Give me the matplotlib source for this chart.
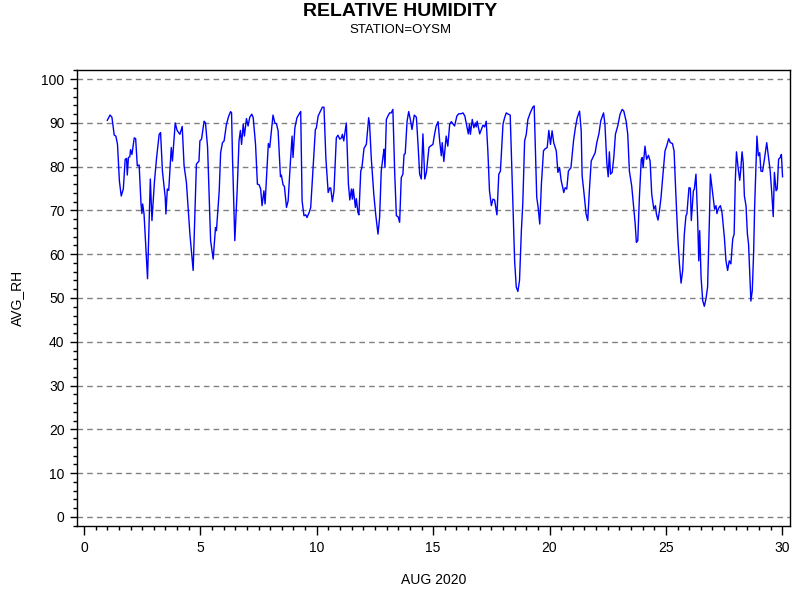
import numpy as np
import matplotlib
matplotlib.use('Agg')
import matplotlib.pyplot as plt
from matplotlib.ticker import MultipleLocator

plt.rcParams['font.family'] = ['Liberation Sans', 'DejaVu Sans']

# day of month (fractional) and average relative humidity
day = [1.00, 1.12, 1.20, 1.30, 1.37, 1.44, 1.52, 1.60, 1.69, 1.77, 1.83, 1.86, 1.91, 1.97,
       2.00, 2.06, 2.16, 2.22, 2.29, 2.37, 2.45, 2.49, 2.52, 2.58, 2.73, 2.85, 2.92,
       3.03, 3.12, 3.23, 3.29, 3.37, 3.49, 3.52, 3.58, 3.64, 3.75, 3.80, 3.92,
       4.00, 4.12, 4.22, 4.30, 4.40, 4.55, 4.69, 4.83, 4.94, 4.98,
       5.05, 5.16, 5.22, 5.31, 5.44, 5.55, 5.65, 5.69, 5.81, 5.87, 5.95,
       6.02, 6.12, 6.22, 6.30, 6.34, 6.38, 6.48, 6.58, 6.66, 6.72, 6.77, 6.84, 6.89, 6.98,
       7.05, 7.12, 7.21, 7.27, 7.37, 7.45, 7.52, 7.59, 7.65, 7.73, 7.78, 7.92, 7.98,
       8.12, 8.20, 8.27, 8.34, 8.44, 8.48, 8.55, 8.61, 8.70, 8.77, 8.87, 8.94, 8.98,
       9.06, 9.15, 9.27, 9.31, 9.37, 9.45, 9.53, 9.58, 9.67, 9.74, 9.84, 9.94, 9.98,
       10.06, 10.16, 10.24, 10.31, 10.39, 10.49, 10.56, 10.60, 10.67, 10.74, 10.84, 10.91, 10.99,
       11.06, 11.10, 11.16, 11.27, 11.36, 11.42, 11.49, 11.53, 11.57, 11.66, 11.70, 11.77, 11.81,
       11.89, 11.94, 12.03, 12.13, 12.23, 12.27, 12.34, 12.45, 12.53, 12.63, 12.70, 12.77, 12.85,
       12.89, 12.93, 12.99, 13.06, 13.13, 13.20, 13.27, 13.35, 13.42, 13.49, 13.56, 13.63, 13.70,
       13.75, 13.80, 13.88, 13.95, 14.02, 14.09, 14.19, 14.28, 14.35, 14.42, 14.49, 14.56, 14.64,
       14.71, 14.82, 14.88, 14.99, 15.06, 15.13, 15.21, 15.28, 15.35, 15.39, 15.46, 15.56, 15.63,
       15.71, 15.78, 15.85, 15.92, 16.02, 16.10, 16.20, 16.28, 16.36, 16.42, 16.51, 16.56, 16.60,
       16.68, 16.75, 16.81, 16.85, 16.89, 17.00, 17.07, 17.14, 17.21, 17.28, 17.35, 17.42, 17.50,
       17.57, 17.64, 17.74, 17.82, 17.89, 18.00, 18.07, 18.14, 18.23, 18.31, 18.40, 18.50, 18.57,
       18.64, 18.71, 18.79, 18.85, 18.93, 19.00, 19.07, 19.17, 19.28, 19.34, 19.40, 19.45, 19.51,
       19.58, 19.65, 19.74, 19.79, 19.90, 19.97, 20.04, 20.11, 20.18, 20.29, 20.36, 20.43, 20.50,
       20.57, 20.61, 20.67, 20.74, 20.81, 20.92, 21.03, 21.11, 21.19, 21.29, 21.36, 21.40, 21.47,
       21.57, 21.64, 21.71, 21.79, 21.86, 21.96, 22.03, 22.12, 22.20, 22.32, 22.38, 22.46, 22.52,
       22.57, 22.62, 22.69, 22.76, 22.83, 22.93, 23.03, 23.12, 23.19, 23.29, 23.36, 23.43, 23.53,
       23.61, 23.68, 23.73, 23.79, 23.86, 23.94, 23.98, 24.02, 24.10, 24.17, 24.25, 24.32, 24.39,
       24.48, 24.55, 24.59, 24.66, 24.72, 24.79, 24.86, 24.96, 25.03, 25.12, 25.19, 25.28, 25.35,
       25.42, 25.51, 25.58, 25.65, 25.72, 25.79, 25.86, 25.90, 25.99, 26.05, 26.09, 26.18, 26.22,
       26.29, 26.36, 26.41, 26.45, 26.51, 26.58, 26.65, 26.72, 26.79, 26.87, 26.91, 26.98, 27.05,
       27.09, 27.15, 27.19, 27.26, 27.34, 27.41, 27.51, 27.58, 27.65, 27.72, 27.79, 27.87, 27.93,
       27.98, 28.03, 28.10, 28.17, 28.21, 28.27, 28.32, 28.37, 28.44, 28.50, 28.55, 28.61, 28.65,
       28.71, 28.77, 28.81, 28.87, 28.91, 28.97, 29.03, 29.08, 29.15, 29.22, 29.33, 29.41, 29.48,
       29.55, 29.61, 29.66, 29.73, 29.78, 29.84, 29.91, 29.96, 30.01]

avg_rh = [90.6, 91.8, 91.3, 87.2, 87.0, 85.1, 76.8, 73.3, 74.9, 81.7, 81.9, 78.1, 82.1, 82.3,
          83.9, 82.8, 86.6, 86.4, 80.2, 80.4, 71.5, 69.3, 71.5, 69.2, 54.4, 77.2, 67.7,
          76.8, 82.1, 87.4, 87.8, 79.0, 73.0, 69.2, 74.9, 74.6, 84.4, 81.3, 90.0,
          88.3, 87.4, 89.2, 80.2, 76.4, 64.6, 56.3, 80.6, 81.3, 85.9,
          86.3, 90.4, 90.0, 84.4, 63.1, 58.9, 66.1, 65.4, 74.5, 83.2, 85.5,
          85.9, 89.7, 91.6, 92.6, 92.3, 82.1, 63.1, 74.5, 85.9, 88.3, 85.1, 89.7, 87.0, 91.0,
          89.3, 91.3, 92.0, 91.2, 85.1, 76.0, 75.9, 74.9, 71.1, 74.5, 71.5, 85.3, 84.4,
          91.8, 90.0, 89.8, 88.2, 77.7, 78.1, 75.9, 75.5, 70.7, 72.2, 81.3, 87.0, 82.1,
          88.9, 91.2, 92.3, 92.6, 72.2, 68.8, 69.0, 68.4, 69.5, 70.7, 79.8, 88.5, 88.8,
          91.6, 92.7, 93.6, 93.6, 82.1, 74.1, 75.2, 75.1, 72.0, 74.5, 86.6, 87.2, 86.3,
          86.6, 87.4, 85.9, 90.0, 76.0, 72.4, 74.9, 72.6, 74.9, 70.7, 72.7, 69.5, 69.0,
          79.0, 79.8, 84.2, 85.1, 91.2, 89.7, 82.1, 73.7, 69.2, 64.6, 68.4, 79.0, 82.5,
          84.0, 79.8, 90.8, 91.6, 92.3, 92.3, 93.1, 78.3, 68.8, 68.6, 67.3, 77.5, 78.3,
          82.8, 83.0, 90.4, 92.6, 90.8, 88.5, 91.8, 91.3, 85.1, 78.3, 77.2, 87.5, 77.2,
          78.7, 84.4, 84.7, 85.1, 87.4, 89.3, 90.3, 85.9, 82.5, 85.5, 81.2, 87.0, 84.7,
          89.7, 90.3, 89.8, 89.3, 91.6, 92.1, 92.1, 92.3, 91.6, 90.0, 87.5, 89.7, 87.4,
          90.8, 88.9, 90.0, 89.1, 90.4, 87.5, 88.5, 89.5, 89.1, 90.4, 83.6, 74.5, 71.1,
          72.6, 72.4, 69.0, 78.3, 79.0, 89.7, 91.2, 92.3, 92.0, 91.8, 76.0, 58.5, 52.5,
          51.5, 54.0, 65.4, 71.5, 85.9, 87.4, 90.8, 92.3, 93.6, 93.9, 82.1, 73.0, 70.7,
          66.9, 76.0, 83.6, 84.0, 84.4, 88.3, 85.1, 88.2, 85.5, 83.6, 78.7, 79.8, 76.8,
          75.2, 74.1, 75.2, 74.9, 79.0, 79.8, 85.9, 88.9, 91.2, 92.7, 88.2, 77.9, 74.5,
          69.2, 67.7, 74.5, 81.3, 82.1, 83.2, 85.5, 87.5, 90.5, 92.3, 89.7, 80.9, 77.7,
          83.4, 78.3, 78.7, 82.1, 87.4, 89.3, 92.0, 93.1, 92.7, 90.4, 87.4, 79.0, 75.6,
          71.1, 66.9, 62.7, 63.1, 73.0, 81.7, 82.1, 79.8, 84.7, 81.7, 82.6, 81.3, 73.7,
          70.3, 71.1, 69.2, 67.8, 69.9, 73.0, 77.5, 83.6, 84.7, 86.4, 85.5, 85.3, 83.6,
          74.5, 63.9, 57.8, 53.4, 56.3, 64.6, 68.8, 69.2, 75.2, 75.1, 67.7, 74.5, 74.9,
          78.3, 68.4, 58.5, 65.4, 54.7, 49.4, 48.1, 49.8, 52.5, 68.4, 78.3, 75.2, 72.2,
          70.3, 71.1, 69.3, 70.5, 71.1, 69.5, 63.9, 58.5, 56.3, 58.5, 57.8, 63.5, 64.6,
          76.8, 83.4, 79.8, 76.9, 79.0, 83.4, 80.9, 73.3, 71.1, 64.6, 62.3, 54.7, 49.3,
          51.7, 60.8, 70.7, 80.2, 87.0, 82.5, 83.2, 79.0, 78.9, 81.3, 85.5, 82.1, 79.0,
          73.7, 68.6, 78.7, 74.5, 74.9, 81.7, 82.1, 82.8, 77.7]

fig = plt.figure(figsize=(8, 6), dpi=100)
ax = fig.add_axes([77 / 800, 74 / 600, 713 / 800, 456 / 600])

for v in range(0, 101, 10):
    ax.axhline(v, color='#808080', linestyle=(0, (4, 3)), linewidth=1, zorder=1)

ax.plot(day, avg_rh, color='#0000ff', linewidth=1, zorder=2)

ax.set_xlim(-0.3, 30.33)
ax.set_ylim(-2.1, 102.1)
ax.xaxis.set_major_locator(MultipleLocator(5))
ax.xaxis.set_minor_locator(MultipleLocator(0.5))
ax.yaxis.set_major_locator(MultipleLocator(10))
ax.yaxis.set_minor_locator(MultipleLocator(2))
ax.tick_params(axis='x', which='major', direction='out', length=6.5, width=1, labelsize=10, pad=4)
ax.tick_params(axis='y', which='major', direction='out', length=5, width=1, labelsize=10, pad=4)
ax.tick_params(which='minor', direction='out', length=3, width=1)
for s in ax.spines.values():
    s.set_linewidth(1)

ax.set_xlabel('AUG 2020', fontsize=10)
ax.set_ylabel('AVG_RH', fontsize=10)
ax.xaxis.set_label_coords(0.5, (526 - 580) / 456)
ax.yaxis.set_label_coords((17 - 77) / 713, 0.5)
ax.xaxis.label.set_va('center')
ax.yaxis.label.set_va('center')

fig.text(0.5, 1 - 11 / 600, 'RELATIVE HUMIDITY', ha='center', va='center',
         fontsize=14, fontweight='bold')
fig.text(0.5, 1 - 30 / 600, 'STATION=OYSM', ha='center', va='center', fontsize=9.5)

plt.savefig('out.png', dpi=100)
